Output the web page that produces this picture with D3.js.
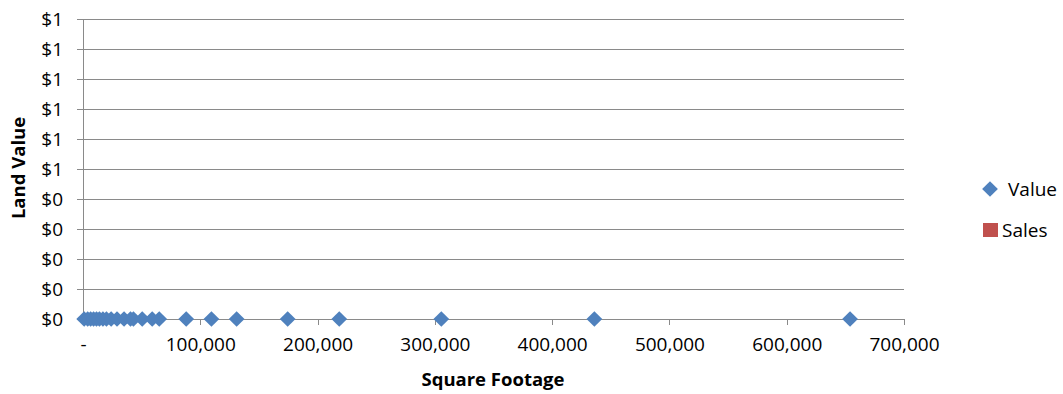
<!DOCTYPE html>
<html>
<head>
<meta charset="utf-8">
<script src="https://cdn.jsdelivr.net/npm/d3@7/dist/d3.min.js"></script>
<style>
  html, body { margin: 0; padding: 0; background: #fff; }
  svg { display: block; font-family: "Open Sans", "Noto Sans", sans-serif; }
</style>
</head>
<body>
<svg id="chart" width="1063" height="394"></svg>
<script>
// Parcel square footage and the matching assessed land value
const squareFootage = [1000, 4000, 6500, 9000, 11500, 14000, 17000, 20000, 24000, 29000,
  35000, 40500, 43000, 50500, 59000, 65000, 88000, 109500, 131000, 174500,
  218500, 305500, 436000, 654000];
const landValue = [0, 0, 0, 0, 0, 0, 0, 0, 0, 0,
  0, 0, 0, 0, 0, 0, 0, 0, 0, 0,
  0, 0, 0, 0];
// Sales series carries no plotted points
const salesFootage = [];
const salesValue = [];

const xTicks = [0, 100000, 200000, 300000, 400000, 500000, 600000, 700000];
const yTicks = [0, 0.1, 0.2, 0.3, 0.4, 0.5, 0.6, 0.7, 0.8, 0.9, 1.0];
const seriesNames = ["Value", "Sales"];
const seriesColors = ["#4F81BD", "#C0504D"];

const svg = d3.select("#chart");
const plot = { left: 83, right: 904, top: 19, bottom: 319 };

const x = d3.scaleLinear().domain([0, 700000]).range([plot.left, plot.right]);
const y = d3.scaleLinear().domain([0, 1]).range([plot.bottom, plot.top]);

const gridColor = "#8a8a8a";
const tickFont = 19;
const fmtX = v => v === 0 ? "-" : d3.format(",")(v);
const fmtY = v => "$" + Math.round(v);

// Horizontal gridlines
svg.append("g")
  .selectAll("line")
  .data(yTicks)
  .join("line")
  .attr("x1", plot.left).attr("x2", plot.right)
  .attr("y1", d => y(d)).attr("y2", d => y(d))
  .attr("stroke", gridColor).attr("stroke-width", 1)
  .attr("shape-rendering", "crispEdges");

// Y axis
const yAxis = svg.append("g")
  .attr("transform", `translate(${plot.left},0)`)
  .call(d3.axisLeft(y).tickValues(yTicks).tickFormat(fmtY).tickSize(6).tickPadding(14));
yAxis.select(".domain").attr("stroke", gridColor).attr("shape-rendering", "crispEdges");
yAxis.selectAll(".tick line").attr("stroke", gridColor).attr("shape-rendering", "crispEdges");
yAxis.selectAll(".tick text").attr("font-size", tickFont).attr("fill", "#000")
  .attr("font-family", "'Open Sans', sans-serif");

// X axis
const xAxis = svg.append("g")
  .attr("transform", `translate(0,${plot.bottom})`)
  .call(d3.axisBottom(x).tickValues(xTicks).tickFormat(fmtX).tickSize(6).tickPadding(13));
xAxis.select(".domain").attr("stroke", gridColor).attr("shape-rendering", "crispEdges");
xAxis.selectAll(".tick line").attr("stroke", gridColor).attr("shape-rendering", "crispEdges");
xAxis.selectAll(".tick text").attr("font-size", tickFont).attr("fill", "#000")
  .attr("font-family", "'Open Sans', sans-serif");

// Axis titles
svg.append("text")
  .attr("x", 493)
  .attr("y", 386)
  .attr("text-anchor", "middle")
  .attr("font-size", 18.5).attr("font-weight", "bold")
  .text("Square Footage");

svg.append("text")
  .attr("transform", `translate(25,168) rotate(-90)`)
  .attr("text-anchor", "middle")
  .attr("font-size", 18.5).attr("font-weight", "bold")
  .text("Land Value");

// Markers
const markerArea = 124;
const valuePts = squareFootage.map((d, i) => ({ sf: d, v: landValue[i] }));
svg.append("g")
  .selectAll("path")
  .data(valuePts)
  .join("path")
  .attr("d", d3.symbol().type(d3.symbolSquare).size(markerArea))
  .attr("transform", d => `translate(${x(d.sf)},${y(d.v)}) rotate(45)`)
  .attr("fill", seriesColors[0]);

const salesPts = salesFootage.map((d, i) => ({ sf: d, v: salesValue[i] }));
svg.append("g")
  .selectAll("rect")
  .data(salesPts)
  .join("rect")
  .attr("x", d => x(d.sf) - 7).attr("y", d => y(d.v) - 7)
  .attr("width", 14).attr("height", 14)
  .attr("fill", seriesColors[1]);

// Legend
const legend = svg.append("g");
legend.append("path")
  .attr("d", d3.symbol().type(d3.symbolSquare).size(markerArea))
  .attr("transform", "translate(990,189) rotate(45)")
  .attr("fill", seriesColors[0]);
legend.append("text")
  .attr("x", 1008).attr("y", 189).attr("dy", "0.35em")
  .attr("font-size", tickFont).text(seriesNames[0]);
legend.append("rect")
  .attr("x", 983).attr("y", 223).attr("width", 15).attr("height", 14)
  .attr("fill", seriesColors[1]);
legend.append("text")
  .attr("x", 1002).attr("y", 230).attr("dy", "0.35em")
  .attr("font-size", tickFont).text(seriesNames[1]);
</script>
</body>
</html>
